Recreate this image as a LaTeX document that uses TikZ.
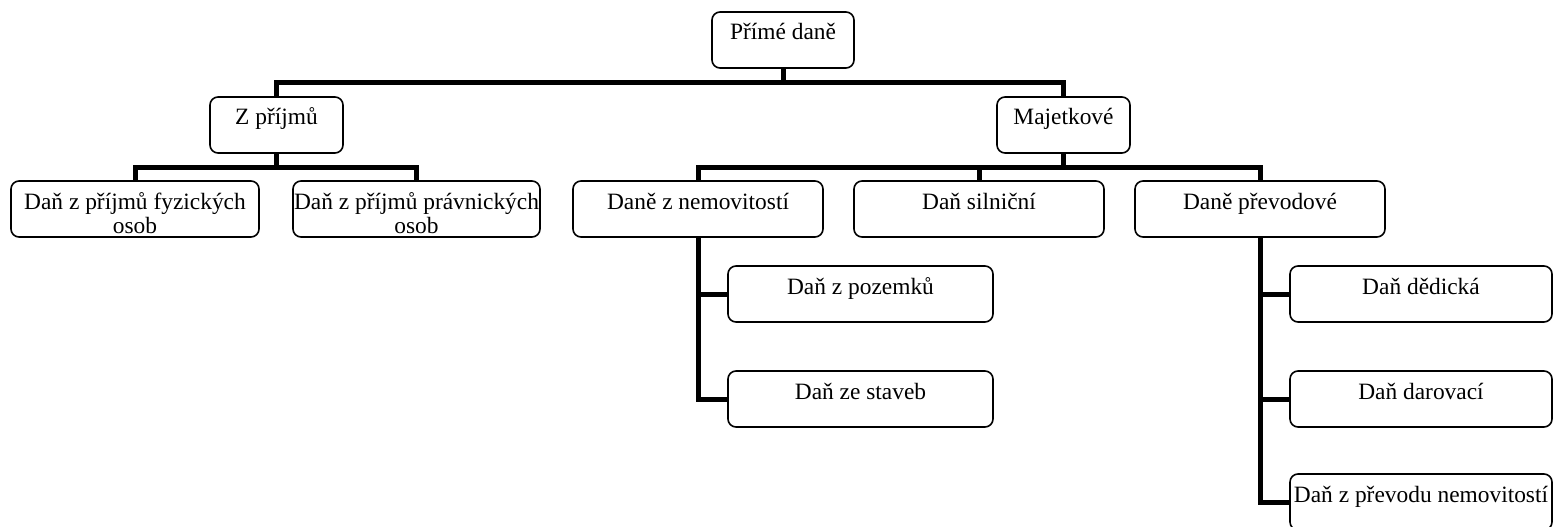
\documentclass[tikz,border=0pt]{standalone}
\usepackage{fontspec}
\setmainfont{Liberation Serif}
\newcommand\bxt[2]{\parbox[c][56pt][t]{#1pt}{\centering\rule{0pt}{28pt}#2}}
\tikzset{
  bx/.style={draw=black, fill=white, line width=1.6pt, rounded corners=8pt,
    inner sep=0pt, font=\fontsize{23.4}{24}\selectfont},
  conn/.style={draw=black, line width=5pt, line join=miter}
}
\begin{document}
\begin{tikzpicture}[x=1pt,y=-1pt]
\useasboundingbox (0,0) rectangle (1553,527);
\clip (0,0) rectangle (1553,527);
% nodes
\node[bx] (pd)   at (783,40)    {\bxt{142}{Přímé daně}};
\node[bx] (zp)   at (276.5,125) {\bxt{133}{Z příjmů}};
\node[bx] (maj)  at (1063.5,125){\bxt{133}{Majetkové}};
\node[bx] (fo)   at (135,209)   {\bxt{248}{Daň z příjmů fyzických\\osob}};
\node[bx] (po)   at (416.5,209) {\bxt{247}{Daň z příjmů právnických\\osob}};
\node[bx] (nem)  at (698,209)   {\bxt{250}{Daně z nemovitostí}};
\node[bx] (sil)  at (979,209)   {\bxt{250}{Daň silniční}};
\node[bx] (prev) at (1260,209)  {\bxt{250}{Daně převodové}};
\node[bx] (poz)  at (860.5,294) {\bxt{265}{Daň z pozemků}};
\node[bx] (stav) at (860.5,399) {\bxt{265}{Daň ze staveb}};
\node[bx] (ded)  at (1421,294)  {\bxt{262}{Daň dědická}};
\node[bx] (dar)  at (1421,399)  {\bxt{262}{Daň darovací}};
\node[bx] (prn)  at (1421,502)  {\bxt{262}{Daň z převodu nemovitostí}};
% connectors
\draw[conn] (pd.south) -- ++(0,14) -| (zp.north);
\draw[conn] (pd.south) -- ++(0,14) -| (maj.north);
\draw[conn] (zp.south) -- ++(0,14) -| (fo.north);
\draw[conn] (zp.south) -- ++(0,14) -| (po.north);
\draw[conn] (maj.south) -- ++(0,14) -| (nem.north);
\draw[conn] (maj.south) -- ++(0,14) -| (sil.north);
\draw[conn] (maj.south) -- ++(0,14) -| (prev.north);
\draw[conn] (nem.south) |- (poz.west);
\draw[conn] (nem.south) |- (stav.west);
\draw[conn] (prev.south) |- (ded.west);
\draw[conn] (prev.south) |- (dar.west);
\draw[conn] (prev.south) |- (prn.west);
\end{tikzpicture}
\end{document}
